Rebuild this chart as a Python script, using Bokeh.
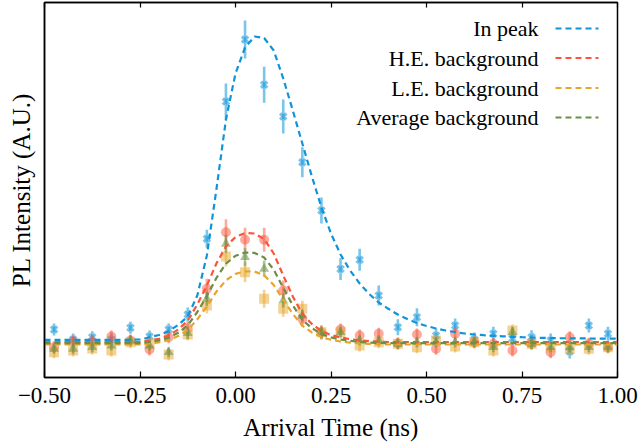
from bokeh.plotting import figure
from bokeh.models import Range1d, FixedTicker, LinearAxis, CustomJSTickFormatter, Label, Arrow, ColumnDataSource
from bokeh.embed import file_html
from bokeh.resources import INLINE

# ---------------- data ----------------
x_pts = [-0.475, -0.425, -0.375, -0.325, -0.275, -0.225, -0.175, -0.125, -0.075, -0.025,
         0.025, 0.075, 0.125, 0.175, 0.225, 0.275, 0.325, 0.375, 0.425, 0.475,
         0.525, 0.575, 0.625, 0.675, 0.725, 0.775, 0.825, 0.875, 0.925, 0.975]

peak_y = [48, 38, 40.3, 38, 49.7, 41, 48, 63, 138.7, 276, 338, 292.7, 261, 215.3, 167,
          108.5, 117.7, 82, 50.3, 60.3, 42, 52, 38, 43.7, 39, 40.3, 37, 26, 52, 43.7]
peak_err = [6, 6, 6, 6, 6, 6, 6, 7, 9, 18, 19, 18, 17, 15, 13,
            11, 11, 10, 8, 9, 7, 7, 7, 7, 7, 7, 7, 7, 7, 7]

he_y = [30.3, 36, 36, 41, 37, 28, 40.3, 49, 88.7, 145.3, 137.7, 137.7, 87, 58.7, 45,
        48, 42, 43.7, 34, 43, 28.7, 43.7, 35.3, 33.7, 27, 33.7, 25.3, 40.3, 33.7, 30.3]
he_err = [6, 6, 6, 6, 6, 6, 6, 7, 10, 13, 12, 12, 10, 8, 7,
          6, 6, 6, 6, 6, 6, 6, 6, 6, 6, 6, 6, 6, 6, 6]

le_y = [25.3, 27, 29, 27, 35.3, 34, 23, 43, 72, 121, 105.3, 78.7, 68.7, 68.7, 45.3,
        45.3, 32, 35.3, 33.7, 30.3, 37, 31, 35.3, 27, 47, 33.7, 30.3, 28.7, 28.7, 30.3]
le_err = [6, 6, 6, 6, 6, 6, 6, 6, 8, 10, 10, 9, 8, 8, 7,
          6, 6, 6, 6, 6, 6, 6, 6, 6, 6, 6, 6, 6, 6, 6]

avg_y = [28.7, 28.7, 30.3, 32, 37, 32, 25.3, 44.5, 78.7, 133.7, 120.3, 108.7, 77, 62, 45,
         45.3, 37, 37, 33.7, 35.3, 35.3, 35.3, 35.3, 30.3, 45.3, 33.7, 30.3, 30.3, 30.3, 30.3]
avg_err = [5, 5, 5, 5, 5, 5, 5, 6, 7, 9, 9, 8, 7, 6, 6,
           5, 5, 5, 5, 5, 5, 5, 5, 5, 5, 5, 5, 5, 5, 5]

# fitted curves on a 0.025 ns grid
x_fit = [-0.5, -0.475, -0.45, -0.425, -0.4, -0.375, -0.35, -0.325, -0.3, -0.275,
         -0.25, -0.225, -0.2, -0.175, -0.15, -0.125, -0.1, -0.075, -0.05, -0.025,
         0.0, 0.025, 0.05, 0.075, 0.1, 0.125, 0.15, 0.175, 0.2, 0.225,
         0.25, 0.275, 0.3, 0.325, 0.35, 0.375, 0.4, 0.425, 0.45, 0.475,
         0.5, 0.525, 0.55, 0.575, 0.6, 0.625, 0.65, 0.675, 0.7, 0.725,
         0.75, 0.775, 0.8, 0.825, 0.85, 0.875, 0.9, 0.925, 0.95, 0.975, 1.0]

peak_fit = [37.7, 37.7, 37.7, 37.7, 37.7, 37.7, 37.7, 37.7, 37.7, 37.7,
            38.0, 40.3, 42.5, 46.3, 52.5, 61, 82, 122, 188, 258,
            304, 330, 341, 339.5, 327, 299, 267, 234, 201, 170,
            144, 123, 107, 94, 83.5, 75, 68.7, 63, 58.5, 54.5,
            51.5, 49, 47, 45.3, 44, 43, 42.3, 41.7, 41.2, 40.7,
            40.3, 40, 39.7, 39.5, 39.3, 39.2, 39.1, 39, 38.9, 38.9, 38.8]

he_fit = [35.5, 35.5, 35.5, 35.5, 35.5, 35.5, 35.5, 35.5, 35.5, 35.5,
          35.5, 37, 38.7, 42, 48, 57, 73, 92, 114, 131,
          140.5, 144.5, 144, 138.5, 124, 102, 81, 63.5, 53.5, 46.5,
          42.5, 40, 38.3, 37.2, 36.4, 35.9, 35.5, 35.5, 35.5, 35.5,
          35.5, 35.5, 35.5, 35.5, 35.5, 35.5, 35.5, 35.5, 35.5, 35.5,
          35.5, 35.5, 35.5, 35.5, 35.5, 35.5, 35.5, 35.5, 35.5, 35.5, 35.5]

le_fit = [33, 33, 33, 33, 33, 33, 33, 33, 33, 33,
          33, 34.0, 35.2, 37.4, 41.4, 47.4, 58.2, 71.0, 85.8, 97.2,
          103.6, 106.2, 105.9, 102.2, 92.5, 77.7, 63.6, 51.8, 45.1, 40.4,
          37.7, 36.0, 34.9, 34.1, 33.6, 33.3, 33, 33, 33, 33,
          33, 33, 33, 33, 33, 33, 33, 33, 33, 33,
          33, 33, 33, 33, 33, 33, 33, 33, 33, 33, 33]

avg_fit = [34.3, 34.3, 34.3, 34.3, 34.3, 34.3, 34.3, 34.3, 34.3, 34.3,
           34.3, 35.5, 37.0, 39.7, 44.7, 52.2, 65.5, 81.3, 99.6, 113.8,
           121.7, 125.0, 124.6, 120.0, 107.9, 89.6, 72.2, 57.6, 49.3, 43.5,
           40.1, 38.0, 36.6, 35.7, 35.0, 34.6, 34.3, 34.3, 34.3, 34.3,
           34.3, 34.3, 34.3, 34.3, 34.3, 34.3, 34.3, 34.3, 34.3, 34.3,
           34.3, 34.3, 34.3, 34.3, 34.3, 34.3, 34.3, 34.3, 34.3, 34.3, 34.3]

x_ticks = [-0.5, -0.25, 0.0, 0.25, 0.5, 0.75, 1.0]
legend_labels = ["In peak", "H.E. background", "L.E. background", "Average background"]

# ---------------- styles ----------------
FONT = "Liberation Serif"
line_colors = ["#0F94D9", "#F9553A", "#E7A52B", "#6A8F45"]
markers = ["x", "circle", "square", "triangle"]
DASH = "6 4"

p = figure(width=639, height=444, output_backend="svg", toolbar_location=None,
           x_range=Range1d(-0.5, 1.0), y_range=Range1d(0, 375),
           min_border_left=44, min_border_right=22, min_border_top=2, min_border_bottom=67)
p.xgrid.visible = False
p.ygrid.visible = False
p.outline_line_color = "black"
p.outline_line_width = 1.5
p.background_fill_color = "white"
p.border_fill_color = "white"

fmt = CustomJSTickFormatter(code="return (tick < 0 ? '\u2212' : '') + Math.abs(tick).toFixed(2);")
xa = p.xaxis[0]
xa.ticker = FixedTicker(ticks=x_ticks)
xa.formatter = fmt
xa.major_tick_in = 6
xa.major_tick_out = 0
xa.minor_tick_in = 0
xa.minor_tick_out = 0
xa.major_tick_line_width = 1.2
xa.axis_line_width = 1.5
xa.major_label_text_font = FONT
xa.major_label_text_font_size = "23px"
xa.major_label_text_color = "black"
xa.major_label_standoff = 10
xa.axis_label = "Arrival Time (ns)"
xa.axis_label_text_font = FONT
xa.axis_label_text_font_size = "25px"
xa.axis_label_text_font_style = "normal"
xa.axis_label_text_color = "black"
xa.axis_label_standoff = 8

ya = p.yaxis[0]
ya.ticker = FixedTicker(ticks=[])
ya.minor_tick_in = 0
ya.minor_tick_out = 0
ya.major_tick_in = 0
ya.major_tick_out = 0
ya.axis_line_width = 1.5
ya.major_label_standoff = 0
ya.axis_label = "PL Intensity (A.U.)"
ya.axis_label_text_font = FONT
ya.axis_label_text_font_size = "25px"
ya.axis_label_text_font_style = "normal"
ya.axis_label_text_color = "black"
ya.axis_label_standoff = 10

# top axis: ticks only (mirrored), no labels
top = LinearAxis(ticker=FixedTicker(ticks=x_ticks),
                 formatter=CustomJSTickFormatter(code="return '';"),
                 major_tick_in=5, major_tick_out=0, minor_tick_in=0, minor_tick_out=0,
                 major_label_standoff=0, axis_line_width=1.5, major_tick_line_width=1.2)
p.add_layout(top, "above")

series = [(peak_y, peak_err, peak_fit), (he_y, he_err, he_fit),
          (le_y, le_err, le_fit), (avg_y, avg_err, avg_fit)]
marker_alpha = [0.55, 0.5, 0.5, 0.55]
marker_size = [9, 10, 10, 10]

# error bars and markers
for i, (ys, errs, fit) in enumerate(series):
    lo = [y - e for y, e in zip(ys, errs)]
    hi = [y + e for y, e in zip(ys, errs)]
    src = ColumnDataSource(dict(x=x_pts, y=ys, lo=lo, hi=hi))
    c = line_colors[i]
    p.segment(x0="x", y0="lo", x1="x", y1="hi", source=src, line_color=c,
              line_alpha=marker_alpha[i], line_width=2.6)
    if markers[i] == "x":
        p.scatter(x="x", y="y", source=src, marker="x", size=marker_size[i],
                  line_color=c, line_alpha=marker_alpha[i], line_width=3.2)
    else:
        p.scatter(x="x", y="y", source=src, marker=markers[i], size=marker_size[i],
                  fill_color=c, fill_alpha=marker_alpha[i], line_color=None)

# fitted curves
for i, (ys, errs, fit) in enumerate(series):
    p.line(x_fit, fit, line_color=line_colors[i], line_width=2.2, line_dash=DASH)

# legend (labels to the left of the line samples)
row_y = [349, 319.5, 289.5, 260]
for i, lab in enumerate(legend_labels):
    p.add_layout(Label(x=494, y=row_y[i], x_units="screen", y_units="screen", text=lab,
                       text_align="right", text_baseline="middle", text_font=FONT,
                       text_font_size="22px", text_color="black"))
    p.add_layout(Arrow(end=None, x_start=511, y_start=row_y[i], x_end=554, y_end=row_y[i],
                       start_units="screen", end_units="screen", line_color=line_colors[i],
                       line_width=2.2, line_dash=DASH))

open("out.html", "w").write(file_html(p, INLINE))
